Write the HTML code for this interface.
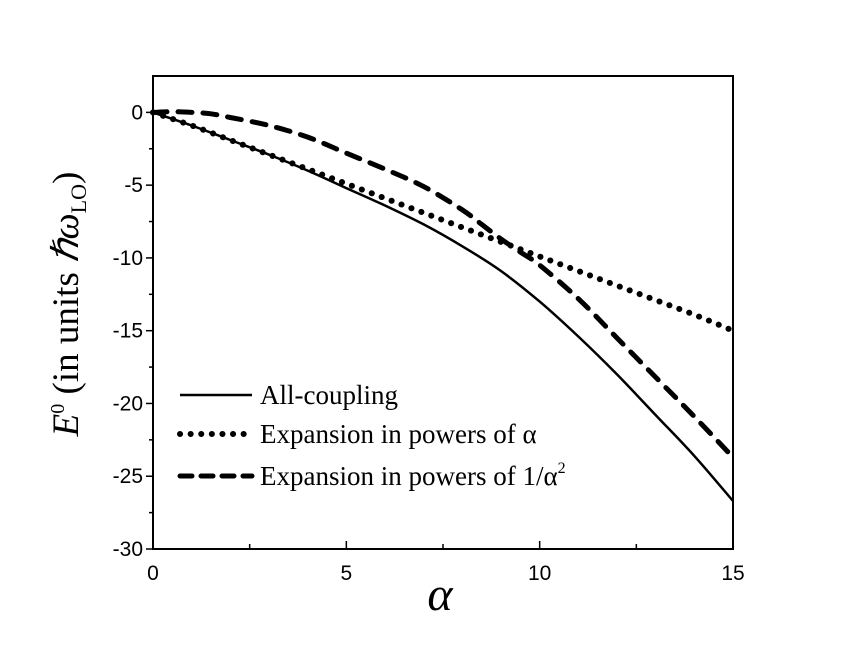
<!DOCTYPE html>
<html><head><meta charset="utf-8"><style>
body{margin:0;background:#fff;}
svg{display:block;}
</style></head><body>
<svg id="chart" width="850" height="657" viewBox="0 0 850 657" xmlns="http://www.w3.org/2000/svg">
<g id="axes"></g>
<g id="series"></g>
<g id="legend"></g>
<text x="440" y="610" font-family="Liberation Serif, serif" font-style="italic" font-size="48" text-anchor="middle">α</text>
<text transform="translate(78,304) rotate(-90)" font-family="Liberation Serif, serif" font-size="37" text-anchor="middle"><tspan font-style="italic">E</tspan><tspan dy="-14" font-size="20">0</tspan><tspan dy="14"> (in units </tspan><tspan font-style="italic">ℏω</tspan><tspan dy="8" font-size="22">LO</tspan><tspan dy="-8">)</tspan></text>
</svg>
<script>
const xTicks=[0,5,10,15];
const yTicks=[0,-5,-10,-15,-20,-25,-30];
const alphaVals=[0,1,2,3,4,5,6,7,8,9,10,11,12,13,14,15];
const allCoupling=[0,-0.9,-1.9,-2.9,-4.0,-5.2,-6.4,-7.7,-9.2,-10.9,-13.0,-15.4,-18.0,-20.8,-23.6,-26.7];
const weakExp=[0,-0.9,-1.9,-2.9,-3.9,-4.9,-5.9,-6.9,-7.9,-8.9,-9.9,-10.9,-11.9,-12.9,-13.9,-15.0];
const strongAlpha=[0,0.5,1,1.5,2,3,4,5,6,7,8,8.5,9,9.5,10,11,12,13,14,15];
const strongExp=[0,0.05,0,-0.1,-0.35,-0.9,-1.7,-2.8,-3.9,-5.1,-6.7,-7.7,-8.7,-9.6,-10.5,-12.8,-15.5,-18.2,-20.9,-23.7];
const legendLabels=["All-coupling","Expansion in powers of α","Expansion in powers of 1/α"];
const NS="http://www.w3.org/2000/svg";
const L=153,R=733,T=76,B=549,XMIN=0,XMAX=15,YMIN=-30,YMAX=2.5;
function xs(v){return L+(v-XMIN)/(XMAX-XMIN)*(R-L);}
function ys(v){return B-(v-YMIN)/(YMAX-YMIN)*(B-T);}
function mk(tag,attrs,parent){const e=document.createElementNS(NS,tag);for(const k in attrs)e.setAttribute(k,attrs[k]);parent.appendChild(e);return e;}
const ax=document.getElementById('axes');
const frame=mk('rect',{x:L,y:T,width:R-L,height:B-T,fill:'none',stroke:'#000','stroke-width':2},ax);


for(let i=0;i<xTicks.length;i++){const v=xTicks[i];const x=xs(v);
 mk('line',{x1:x,y1:B,x2:x,y2:B-8,stroke:'#000','stroke-width':1.5},ax);
 if(i<xTicks.length-1){const xm=xs(v+2.5);mk('line',{x1:xm,y1:B,x2:xm,y2:B-5,stroke:'#000','stroke-width':1.5},ax);}
 const t=mk('text',{x:x,y:B+31,'font-family':'Liberation Sans, sans-serif','font-size':21,'text-anchor':'middle'},ax);
 t.textContent=v;
 
 }
for(let i=0;i<yTicks.length;i++){const v=yTicks[i];const y=ys(v);
 mk('line',{x1:L,y1:y,x2:L-7,y2:y,stroke:'#000','stroke-width':1.5},ax);
 if(i<yTicks.length-1){const ym=ys(v-2.5);mk('line',{x1:L,y1:ym,x2:L-4,y2:ym,stroke:'#000','stroke-width':1.5},ax);}
 const t=mk('text',{x:L-10,y:y+7,'font-family':'Liberation Sans, sans-serif','font-size':21,'text-anchor':'end'},ax);
 t.textContent=v;
 
 }
const sg=document.getElementById('series');
function path(xsA,ysA){
 const P=xsA.map((a,i)=>[xs(a),ys(ysA[i])]);
 let d='M'+P[0][0].toFixed(1)+','+P[0][1].toFixed(1);
 for(let i=0;i<P.length-1;i++){
  const p0=P[Math.max(i-1,0)],p1=P[i],p2=P[i+1],p3=P[Math.min(i+2,P.length-1)];
  const c1=[p1[0]+(p2[0]-p0[0])/6,p1[1]+(p2[1]-p0[1])/6];
  const c2=[p2[0]-(p3[0]-p1[0])/6,p2[1]-(p3[1]-p1[1])/6];
  d+=' C'+c1.map(v=>v.toFixed(1)).join(',')+' '+c2.map(v=>v.toFixed(1)).join(',')+' '+p2[0].toFixed(1)+','+p2[1].toFixed(1);
 }
 return d;}
const p1=mk('path',{d:path(alphaVals,allCoupling),fill:'none',stroke:'#000','stroke-width':2.5},sg);


const p2=mk('path',{d:path(alphaVals,weakExp),fill:'none',stroke:'#000','stroke-width':6,'stroke-dasharray':'0.1 10.5','stroke-linecap':'round'},sg);


const p3=mk('path',{d:path(strongAlpha,strongExp),fill:'none',stroke:'#000','stroke-width':5,'stroke-dasharray':'14 11','stroke-linecap':'round'},sg);


const lg=document.getElementById('legend');
const ly=[395,434,476];
for(let i=0;i<3;i++){
 const ln=mk('line',{x1:180,y1:ly[i],x2:252,y2:ly[i],stroke:'#000','stroke-width':i==1?6:(i==2?5:2.5),'stroke-dasharray':i==1?'0.1 10.5':(i==2?'12 9':'none'),'stroke-linecap':i==0?'butt':'round'},lg);
 
 
 const t=mk('text',{x:260,y:ly[i]+9,'font-family':'Liberation Serif, serif','font-size':27},lg);
 t.textContent=legendLabels[i];
 if(i==2){const sp=mk('tspan',{dy:-12,'font-size':16},t);sp.textContent='2';}
 
 
}
</script>
</body></html>
